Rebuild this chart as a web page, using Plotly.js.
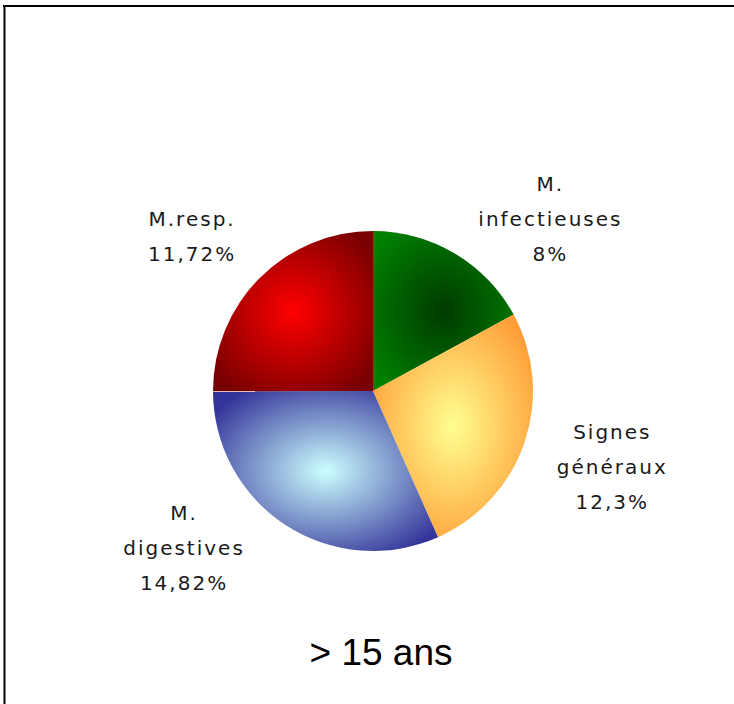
<!DOCTYPE html>
<html><head><meta charset="utf-8">
<script src="https://cdn.plot.ly/plotly-3.0.1.min.js"></script>
<style>
html,body{margin:0;padding:0;background:#fff;}
#chart{width:734px;height:704px;}
.slicetext{letter-spacing:2px;}
</style></head><body>
<div id="chart"></div>
<script>
const categories = ['M. infectieuses', 'Signes généraux', 'M. digestives', 'M.resp.'];
const labelLines = [['M.', 'infectieuses'], ['Signes', 'généraux'], ['M.', 'digestives'], ['M.resp.']];
const values = [8, 12.3, 14.82, 11.72];
const percentText = ['8%', '12,3%', '14,82%', '11,72%'];
const flatColors = ['#006000', '#FFC860', '#8CA8D8', '#C00000'];
const centerColors = ['#003A00', '#FFFF90', '#CCFFFF', '#FF0000'];
const edgeColors = ['#008000', '#FF9933', '#333399', '#780000'];
const chartTitle = '> 15 ans';

const span = s => '<span style="font-size:20px">' + s + '</span>';
const padTop = [0, 1, 0, 0];
const padBottom = [0, 0, 2, 1];
const texts = labelLines.map((lines, i) => {
  const all = lines.concat([percentText[i]]).map(span);
  for (let k = 0; k < padTop[i]; k++) all.unshift(span('&nbsp;'));
  for (let k = 0; k < padBottom[i]; k++) all.push(span('&nbsp;'));
  return all.join('<br>');
});

const W = 734, H = 704;
const cx = 373, cy = 391, r = 160;

const trace = {
  type: 'pie',
  labels: categories,
  values: values,
  text: texts,
  textinfo: 'text',
  textposition: 'outside',
  sort: false,
  direction: 'clockwise',
  rotation: 0,
  hoverinfo: 'none',
  showlegend: false,
  marker: {colors: flatColors, line: {width: 0}},
  outsidetextfont: {family: 'DejaVu Sans, sans-serif', size: 27, color: '#1a1a1a'},
  textfont: {family: 'DejaVu Sans, sans-serif', size: 27, color: '#1a1a1a'},
  domain: {x: [(cx - r) / W, (cx + r) / W], y: [(H - cy - r) / H, (H - cy + r) / H]}
};

const layout = {
  width: W, height: H,
  margin: {l: 0, r: 0, t: 0, b: 0},
  paper_bgcolor: '#ffffff',
  showlegend: false,
  title: {
    text: chartTitle,
    font: {family: 'Liberation Sans, Arial, sans-serif', size: 37, color: '#000000'},
    x: 381 / W, xanchor: 'center', xref: 'paper',
    y: (H - 652) / H, yanchor: 'middle', yref: 'container'
  },
  shapes: [
    {type: 'line', xref: 'paper', yref: 'paper', x0: 3 / W, x1: 1, y0: 1 - 6 / H, y1: 1 - 6 / H, line: {color: '#000', width: 2}},
    {type: 'line', xref: 'paper', yref: 'paper', x0: 4.5 / W, x1: 4.5 / W, y0: 0, y1: 1 - 5 / H, line: {color: '#000', width: 2}}
  ]
};

Plotly.newPlot('chart', [trace], layout, {displayModeBar: false, staticPlot: true}).then(gd => {
  const ns = 'http://www.w3.org/2000/svg';
  const svg = gd.querySelector('svg.main-svg');
  let defs = svg.querySelector('defs');
  if (!defs) { defs = document.createElementNS(ns, 'defs'); svg.insertBefore(defs, svg.firstChild); }
  gd.querySelectorAll('g.slice').forEach((g, k) => {
    const d = g.__data__;
    const i = (d && d.i !== undefined) ? d.i : k;
    const path = g.querySelector('path.surface');
    if (!path) return;
    const grad = document.createElementNS(ns, 'radialGradient');
    grad.setAttribute('id', 'sliceGrad' + i);
    grad.setAttribute('cx', '0.5'); grad.setAttribute('cy', '0.5'); grad.setAttribute('r', '0.62');
    [[0, centerColors[i]], [1, edgeColors[i]]].forEach(([o, c]) => {
      const st = document.createElementNS(ns, 'stop');
      st.setAttribute('offset', o); st.setAttribute('stop-color', c);
      grad.appendChild(st);
    });
    defs.appendChild(grad);
    path.style.fill = 'url(#sliceGrad' + i + ')';
  });
});
</script>
</body></html>
